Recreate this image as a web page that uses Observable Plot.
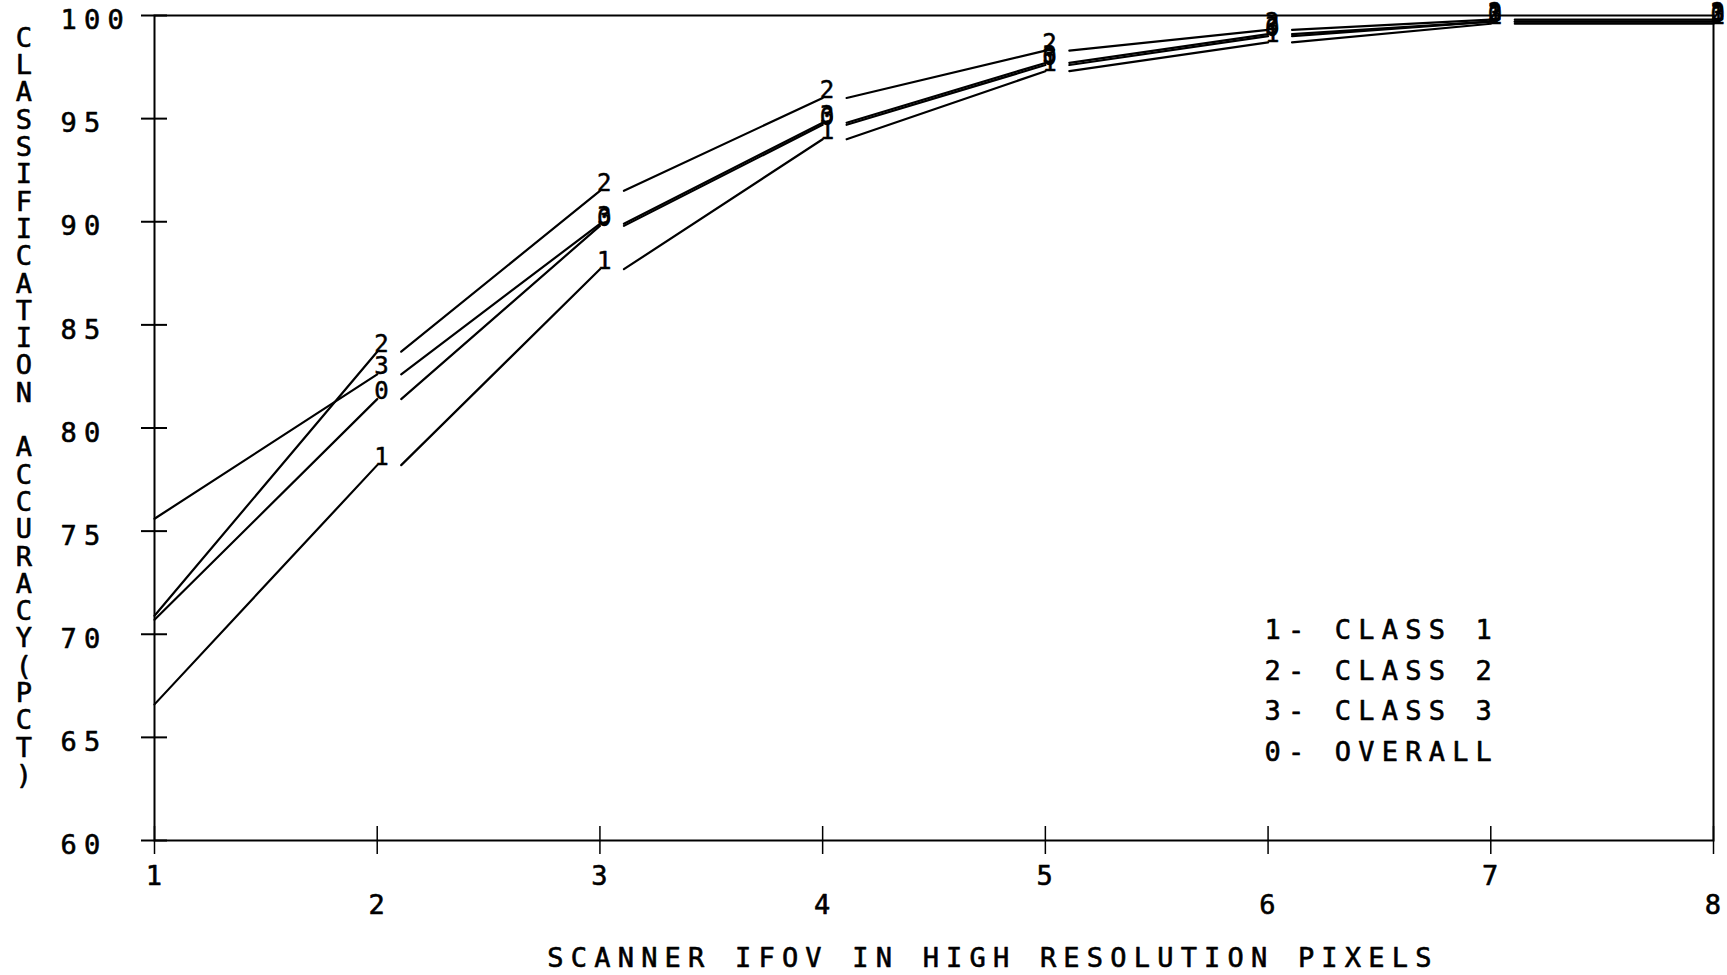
<!DOCTYPE html>
<html>
<head>
<meta charset="utf-8">
<script src="https://cdn.jsdelivr.net/npm/d3@7"></script>
<script src="https://cdn.jsdelivr.net/npm/@observablehq/plot@0.6"></script>
<style>
  html, body { margin: 0; padding: 0; background: #fff; }
  #chart svg text { letter-spacing: 7.2px; }
</style>
</head>
<body>
<div id="chart"></div>
<script>
// ---- data ----
const ifov = [1, 2, 3, 4, 5, 6, 7, 8];
const class1 = [66.6, 78.2, 87.7, 94.0, 97.3, 98.7, 99.6, 99.6];
const class2 = [70.9, 83.7, 91.5, 96.0, 98.3, 99.3, 99.8, 99.8];
const class3 = [75.6, 82.6, 89.9, 94.8, 97.7, 99.1, 99.7, 99.7];
const overall = [70.7, 81.4, 89.8, 94.7, 97.6, 99.0, 99.7, 99.7];
const seriesValues = [class1, class2, class3, overall];
const seriesSymbols = ["1", "2", "3", "0"];
const seriesNames = ["CLASS 1", "CLASS 2", "CLASS 3", "OVERALL"];
const yTicks = [60, 65, 70, 75, 80, 85, 90, 95, 100];
const xTicks = [1, 2, 3, 4, 5, 6, 7, 8];
const xTitle = "SCANNER IFOV IN HIGH RESOLUTION PIXELS";
const yTitle = "CLASSIFICATION ACCURACY(PCT)";

// ---- tidy table ----
const rows = [];
seriesValues.forEach((vals, s) => {
  vals.forEach((v, i) => rows.push({ifov: ifov[i], acc: v, sym: seriesSymbols[s], series: seriesNames[s]}));
});

const W = 1727, H = 975;
const mL = 154, mR = 14, mT = 15, mB = 135;
const frameW = W - mL - mR, frameH = H - mT - mB;
const FONT = "DejaVu Sans Mono";
const GAP = 24; // pen advance after a plotted symbol
const FS = 27;
const txt = {fontSize: FS, fill: "black", stroke: "black", strokeWidth: 0.6};

// plotter-style curve: each segment restarts to the right of the symbol
function penCurve(context) {
  let first = true;
  return {
    areaStart() {}, areaEnd() {},
    lineStart() { first = true; },
    lineEnd() {},
    point(x, y) {
      if (first) { context.moveTo(x, y); first = false; }
      else { context.lineTo(x, y); context.moveTo(x + GAP, y); }
    }
  };
}

const legendText = seriesSymbols.map((s, i) => `${s}- ${seriesNames[i]}`).join("\n");
const yTitleText = yTitle.split("").map(c => c === " " ? "\u00a0" : c).join("\n");

const chart = Plot.plot({
  width: W, height: H,
  marginLeft: mL, marginRight: mR, marginTop: mT, marginBottom: mB,
  style: {fontFamily: FONT, background: "white", color: "black", overflow: "visible"},
  x: {domain: [1, 8], axis: null},
  y: {domain: [60, 100], axis: null},
  marks: [
    Plot.frame({stroke: "black", strokeWidth: 2}),
    Plot.tickY(yTicks, {y: d => d, insetRight: frameW - 26, dx: -13, stroke: "black", strokeWidth: 2}),
    Plot.tickX(xTicks, {x: d => d, insetTop: frameH - 28, dy: 14, stroke: "black", strokeWidth: 1.5}),
    Plot.text(yTicks, {y: d => d, text: d => String(d), frameAnchor: "left", textAnchor: "start", dx: -94, dy: 5, ...txt}),
    Plot.text(xTicks.filter(d => d % 2 === 1), {x: d => d, text: d => String(d), frameAnchor: "bottom", dx: 3, dy: 44, ...txt}),
    Plot.text(xTicks.filter(d => d % 2 === 0), {x: d => d, text: d => String(d), frameAnchor: "bottom", dx: 3, dy: 73, ...txt}),
    Plot.text([xTitle], {text: d => d, frameAnchor: "bottom", dx: 59, dy: 126, ...txt}),
    Plot.text([yTitleText], {text: d => d, frameAnchor: "top-left", textAnchor: "middle", lineAnchor: "top", lineHeight: 27.3 / FS, dx: -127, dy: 12, ...txt}),
    Plot.text([legendText], {text: d => d, frameAnchor: "top-left", textAnchor: "start", lineAnchor: "top", lineHeight: 40.5 / FS, dx: 1110, dy: 595, ...txt}),
    Plot.line(rows, {x: "ifov", y: "acc", z: "series", curve: penCurve, stroke: "black", strokeWidth: 2.2}),
    Plot.text(rows.filter(d => d.ifov !== ifov[0]), {x: "ifov", y: "acc", text: "sym", textAnchor: "start", lineAnchor: "bottom", dx: -3, fontSize: 24, fill: "black", stroke: "black", strokeWidth: 0.5})
  ]
});
document.getElementById("chart").appendChild(chart);
</script>
</body>
</html>
